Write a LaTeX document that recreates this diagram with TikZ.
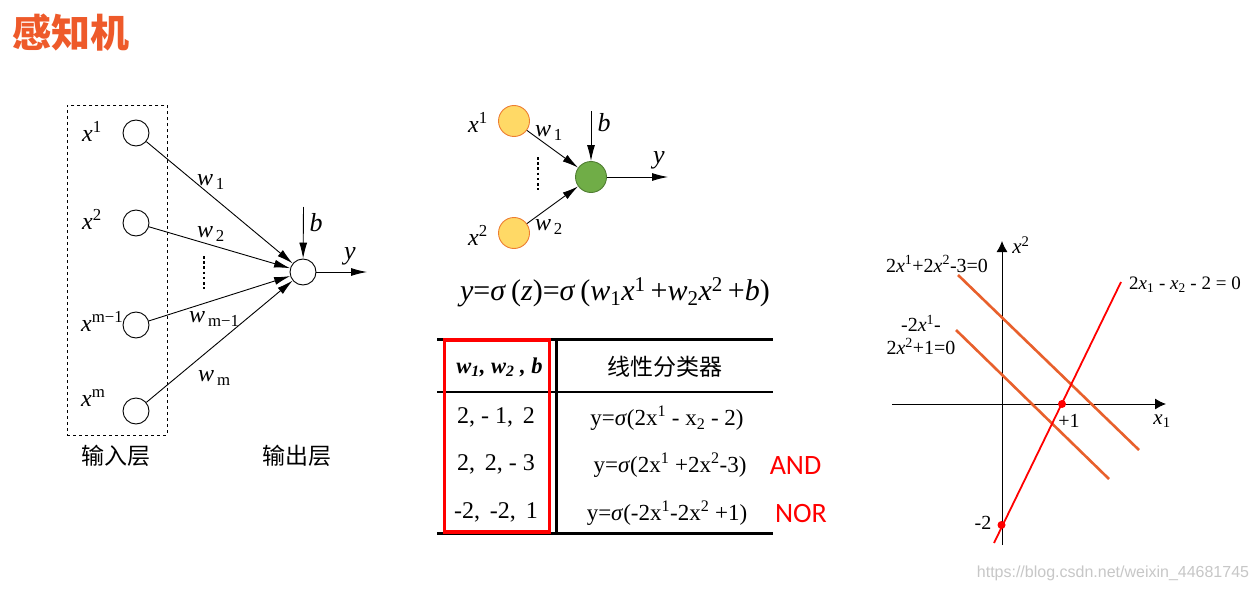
\documentclass[tikz,border=0pt]{standalone}
\usepackage{fontspec}
\setmainfont{Liberation Serif}
\newfontfamily\cjk{Noto Sans CJK SC}
\newfontfamily\latinsans{Carlito}
\usepackage{xcolor}
\usetikzlibrary{arrows.meta,positioning}
\definecolor{titleorange}{HTML}{EE5A2A}
\definecolor{lineorange}{HTML}{E8602C}
\definecolor{inputyellow}{HTML}{FFD966}
\definecolor{inputedge}{HTML}{ED7D31}
\definecolor{outputgreen}{HTML}{70AD47}
\definecolor{outputedge}{HTML}{507E32}
\newcommand{\fsz}[1]{\fontsize{#1}{#1}\selectfont}
\newcommand{\vi}[1]{\textit{#1}}
\newcommand{\sig}{\textit{σ}}
\tikzset{
    tip/.style={-{Latex[length=16pt,width=8pt]}},
    unit/.style={circle,draw,fill=white,minimum size=26pt,inner sep=0pt,line width=0.9pt},
    inunit/.style={circle,draw=inputedge,fill=inputyellow,minimum size=31pt,inner sep=0pt,line width=0.9pt},
    outunit/.style={circle,draw=outputedge,fill=outputgreen,minimum size=31pt,inner sep=0pt,line width=0.9pt},
    lbl/.style={inner sep=0pt,font=\fsz{24}},
    small/.style={inner sep=0pt,font=\fsz{20}},
    cell/.style={inner sep=0pt,font=\fsz{23}},
    cnlbl/.style={inner sep=0pt,font=\fsz{23}\cjk},
    rule/.style={black,line width=#1},
    oline/.style={lineorange,line width=2.6pt},
    vdots/.style={line width=2.8pt,dash pattern=on 2.6pt off 2.6pt}
}
\begin{document}
\begin{tikzpicture}[x=1pt,y=-1pt]
    \useasboundingbox (0,0) rectangle (1258,591);
    \fill[white] (0,0) rectangle (1258,591);

    % Title
    \node[inner sep=0pt,text=titleorange,font=\fsz{39}\cjk\bfseries] (title) at (71,33) {感知机};

    % Left network
    \node[draw,dashed,line width=0.8pt,minimum width=99.5pt,minimum height=330pt,inner sep=0pt] (inbox) at (117.2,270) {};
    \node[unit] (a1) at (136,133) {};
    \node[unit] (a2) at (136,223) {};
    \node[unit] (a3) at (136,325) {};
    \node[unit] (a4) at (136,411) {};
    \node[unit] (aout) at (303,272) {};
    \coordinate (ab) at (303.5,207);
    \coordinate (ay) at (367,272);
    \draw[tip,line width=0.9pt] (a1) -- (aout);
    \draw[tip,line width=0.9pt] (a2) -- (aout);
    \draw[tip,line width=0.9pt] (a3) -- (aout);
    \draw[tip,line width=0.9pt] (a4) -- (aout);
    \draw[tip,line width=0.9pt] (ab) -- (aout);
    \draw[tip,line width=0.9pt] (aout) -- (ay);
    \node[lbl] (ax1) at (92,131) {\vi{x}\textsuperscript{1}};
    \node[lbl] (ax2) at (92,219) {\vi{x}\textsuperscript{2}};
    \node[lbl,anchor=west] (ax3) at (81,321) {\vi{x}\textsuperscript{m−1}};
    \node[lbl,anchor=west] (ax4) at (81,398) {\vi{x}\textsuperscript{m}};
    \node[lbl] (aw1) at (211,182) {\vi{w}\textsubscript{\,1}};
    \node[lbl] (aw2) at (211,234) {\vi{w}\textsubscript{\,2}};
    \node[lbl,anchor=west] (aw3) at (189,319) {\vi{w}\textsubscript{\,m−1}};
    \node[lbl,anchor=west] (aw4) at (198,378) {\vi{w}\textsubscript{\,m}};
    \node[lbl,font=\fsz{26}] (alb) at (316,223) {\vi{b}};
    \node[lbl,font=\fsz{26}] (aly) at (350,256) {\vi{y}};
    \coordinate (adt) at (204,256);
    \coordinate (adb) at (204,289);
    \draw[vdots] (adt) -- (adb);
    \node[cnlbl] (inlayer) at (116,456) {输入层};
    \node[cnlbl] (outlayer) at (297,456) {输出层};

    % Small network
    \node[inunit] (b1) at (514,121) {};
    \node[inunit] (b2) at (514,233) {};
    \node[outunit] (bout) at (591,177) {};
    \coordinate (bb) at (591,111);
    \coordinate (by) at (668,177);
    \draw[tip,line width=0.9pt] (b1) -- (bout);
    \draw[tip,line width=0.9pt] (b2) -- (bout);
    \draw[tip,line width=0.9pt] (bb) -- (bout);
    \draw[tip,line width=0.9pt] (bout) -- (by);
    \node[lbl] (bx1) at (478,122) {\vi{x}\textsuperscript{1}};
    \node[lbl] (bx2) at (478,235) {\vi{x}\textsuperscript{2}};
    \node[lbl] (bw1) at (549,133) {\vi{w}\textsubscript{\,1}};
    \node[lbl] (bw2) at (549,227) {\vi{w}\textsubscript{\,2}};
    \node[lbl,font=\fsz{26}] (blb) at (604,123) {\vi{b}};
    \node[lbl,font=\fsz{26}] (bly) at (659,160) {\vi{y}};
    \coordinate (bdt) at (538,157);
    \coordinate (bdb) at (538,190);
    \draw[vdots] (bdt) -- (bdb);

    % Formula
    \node[inner sep=0pt,font=\fsz{30}] (formula) at (615,292) {\vi{y}=\sig\,(\vi{z})=\sig\,(\vi{w}\textsubscript{1}\vi{x}\textsuperscript{1}\,+\vi{w}\textsubscript{2}\vi{x}\textsuperscript{2}\,+\vi{b})};

    % Table rules
    \coordinate (tl1) at (437,339);
    \coordinate (tr1) at (773,339);
    \coordinate (tl2) at (437,392);
    \coordinate (tr2) at (773,392);
    \coordinate (tl3) at (437,533);
    \coordinate (tr3) at (773,533);
    \coordinate (vt) at (556.5,339);
    \coordinate (vb) at (556.5,533);
    \draw[rule=3pt] (tl1) -- (tr1);
    \draw[rule=2pt] (tl2) -- (tr2);
    \draw[rule=3pt] (tl3) -- (tr3);
    \draw[rule=2.4pt] (vt) -- (vb);
    \node[draw=red,line width=3.6pt,minimum width=105pt,minimum height=192pt,inner sep=0pt] (redbox) at (497,436) {};

    % Table text
    \node[cell,font=\fsz{22.5}\bfseries\itshape] (thead) at (499.5,367) {w\textsubscript{1}, w\textsubscript{2} , b};
    \node[cnlbl] (chead) at (664.5,367) {线性分类器};
    \node[cell,font=\fsz{24}] (r1a) at (496,417) {2, - 1,\, 2};
    \node[cell,font=\fsz{24}] (r2a) at (496,464) {2,\, 2, - 3};
    \node[cell,font=\fsz{24}] (r3a) at (496,512) {-2,\, -2,\, 1};
    \node[cell] (r1b) at (667,418) {y=\sig(2x\textsuperscript{1} - x\textsubscript{2} - 2)};
    \node[cell] (r2b) at (670,465) {y=\sig(2x\textsuperscript{1} +2x\textsuperscript{2}-3)};
    \node[cell] (r3b) at (667,513) {y=\sig(-2x\textsuperscript{1}-2x\textsuperscript{2} +1)};
    \node[inner sep=0pt,text=red,font=\fsz{28}\latinsans] (andl) at (795.5,466) {AND};
    \node[inner sep=0pt,text=red,font=\fsz{28}\latinsans] (norl) at (801,514) {NOR};

    % Coordinate plot
    \coordinate (xs) at (892,404);
    \coordinate (xe) at (1166,404);
    \coordinate (ys) at (1002,545);
    \coordinate (ye) at (1002,241);
    \draw[line width=0.9pt,-{Latex[length=11pt,width=11pt]}] (xs) -- (xe);
    \draw[line width=0.9pt,-{Latex[length=11pt,width=11pt]}] (ys) -- (ye);
    \coordinate (o1s) at (958,275);
    \coordinate (o1e) at (1139,450);
    \coordinate (o2s) at (956,330);
    \coordinate (o2e) at (1109,479);
    \coordinate (rs) at (994,543);
    \coordinate (re) at (1121,282);
    \draw[oline] (o1s) -- (o1e);
    \draw[oline] (o2s) -- (o2e);
    \draw[red,line width=1.8pt] (rs) -- (re);
    \fill[red] (1062,404) circle (4pt);
    \fill[red] (1001.5,525) circle (4pt);
    \node[small,font=\fsz{21}] (lx2) at (1021,245) {\vi{x}\textsuperscript{2}};
    \node[small,font=\fsz{21}] (lx1) at (1162,421) {\vi{x}\textsubscript{1}};
    \node[small] (lp1) at (1069,421) {+1};
    \node[small] (lm2) at (983,523) {-2};
    \node[small] (leq1) at (937,264) {2\vi{x}\textsuperscript{1}+2\vi{x}\textsuperscript{2}-3=0};
    \node[small,align=center] (leq2) at (921,335) {-2\vi{x}\textsuperscript{1}-\\[3pt]2\vi{x}\textsuperscript{2}+1=0};
    \node[small,font=\fsz{19}] (leq3) at (1185,285) {2\vi{x}\textsubscript{1} - \vi{x}\textsubscript{2} - 2 = 0};

    % Watermark
    \node[inner sep=0pt,text=black!22,font=\fsz{16}\fontspec{Liberation Sans}] (mark) at (1113,573) {https://blog.csdn.net/weixin\_44681745};
\end{tikzpicture}
\end{document}
